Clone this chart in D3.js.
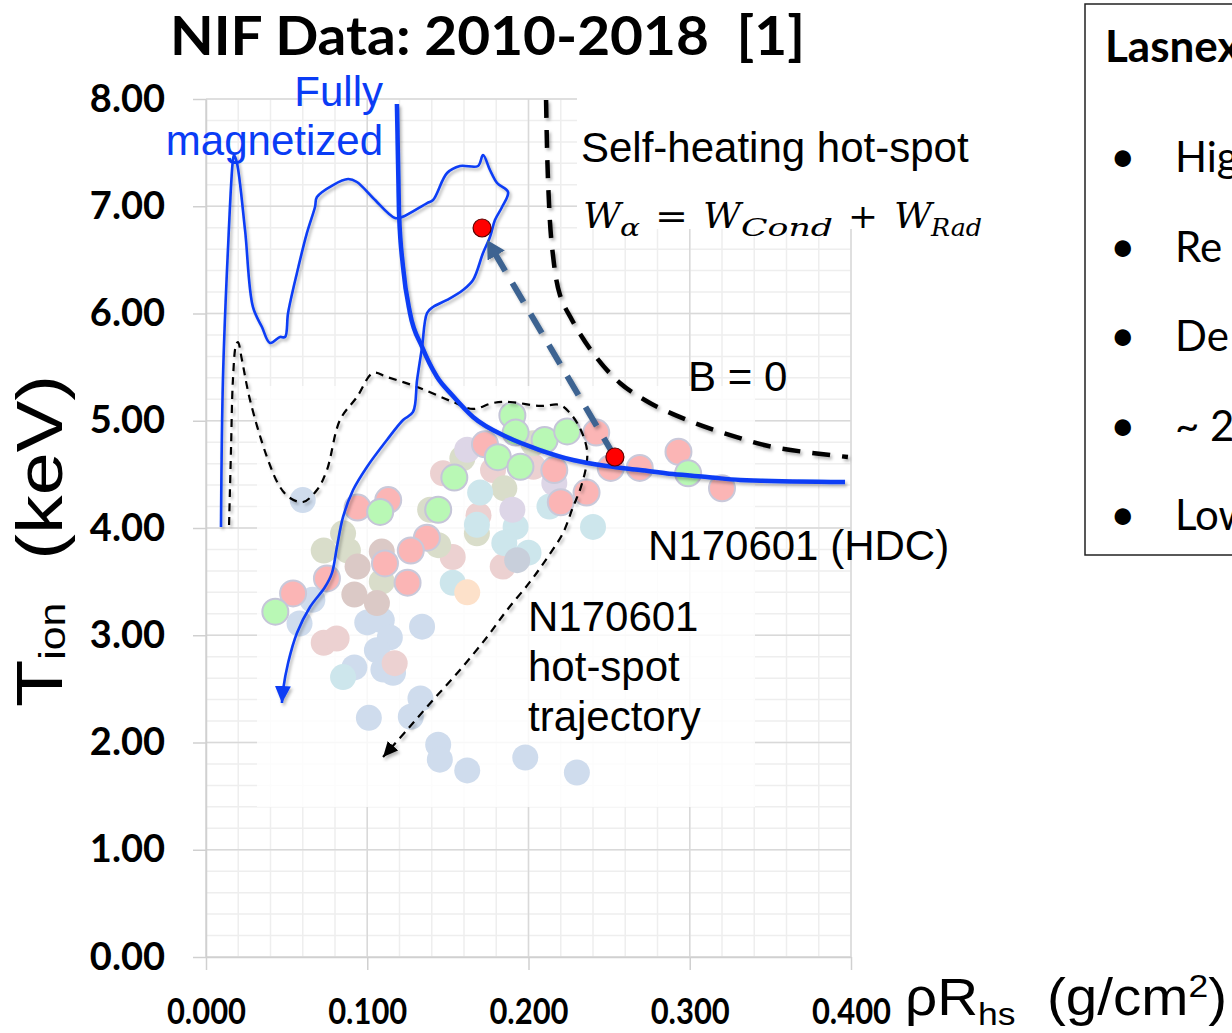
<!DOCTYPE html>
<html>
<head>
<meta charset="utf-8">
<script src="https://cdn.jsdelivr.net/npm/d3@7/dist/d3.min.js"></script>
<style>
  html, body { margin: 0; padding: 0; background: #fff; }
  svg { display: block; }
</style>
</head>
<body>
<svg id="chart" width="1232" height="1033"></svg>
<script>
// ---- Axis ticks -------------------------------------------------------------
const xTicks = [0, 0.1, 0.2, 0.3, 0.4];
const yTicks = [0, 1, 2, 3, 4, 5, 6, 7, 8];

// ---- NIF shots 2010-2018: [rhoR_hs (g/cm2), T_ion (keV)] by campaign colour --
const shotsBlue = [[0.060,4.26],[0.066,3.33],[0.058,3.11],[0.100,3.12],[0.109,3.14],[0.114,2.98],
  [0.106,2.86],[0.092,2.70],[0.116,2.65],[0.110,2.68],[0.134,3.08],[0.133,2.41],[0.127,2.24],
  [0.101,2.23],[0.144,1.98],[0.145,1.84],[0.162,1.74],[0.198,1.86],[0.230,1.72]];
const shotsRose = [[0.147,4.51],[0.178,4.54],[0.203,4.57],[0.169,4.12],[0.184,3.64],[0.153,3.73],
  [0.073,2.93],[0.081,2.97],[0.117,2.74]];
const shotsOlive = [[0.085,3.95],[0.073,3.79],[0.088,3.79],[0.109,3.50],[0.144,3.84],[0.139,4.17],
  [0.159,4.65],[0.185,4.37],[0.168,3.95],[0.203,4.79]];
const shotsTaupe = [[0.094,3.64],[0.092,3.38],[0.106,3.30],[0.109,3.78]];
const shotsCyan = [[0.170,4.33],[0.168,4.03],[0.192,4.01],[0.185,3.86],[0.200,3.77],[0.213,4.20],
  [0.240,4.01],[0.153,3.49],[0.085,2.61]];
const shotsLavender = [[0.162,4.73],[0.190,4.17],[0.216,4.42]];
const shotsPeach = [[0.162,3.40]];
const shotsSlate = [[0.193,3.70]];
const shotsPink = [[0.094,4.19],[0.113,4.26],[0.075,3.53],[0.111,3.67],[0.125,3.49],[0.137,3.91],
  [0.127,3.79],[0.054,3.39],[0.173,4.78],[0.242,4.89],[0.216,4.54],[0.220,4.24],[0.236,4.33],
  [0.251,4.56],[0.269,4.56],[0.293,4.71],[0.320,4.37]];
const shotsGreen = [[0.108,4.15],[0.043,3.22],[0.144,4.17],[0.154,4.47],[0.181,4.66],[0.195,4.57],
  [0.190,5.05],[0.192,4.89],[0.210,4.82],[0.224,4.90],[0.299,4.51]];

// ---- Self-heating boundaries ------------------------------------------------
const boundaryMagnetized = [[0.1184,7.953],[0.1197,6.937],[0.1222,6.434],[0.1265,6.005],[0.1340,5.688],
  [0.1433,5.408],[0.1526,5.240],[0.1656,5.035],[0.1867,4.848],[0.2071,4.727],[0.2276,4.634],
  [0.2487,4.578],[0.2691,4.541],[0.2896,4.503],[0.3107,4.476],[0.3312,4.448],[0.3963,4.429]];
const boundaryB0 = [[0.2109,7.991],[0.2121,7.245],[0.2146,6.620],[0.2195,6.172],[0.2270,5.939],
  [0.2400,5.632],[0.2567,5.352],[0.2753,5.166],[0.2983,5.007],[0.3231,4.876],[0.3516,4.755],[0.3981,4.662]];

// ---- Hot-spot trajectories ---------------------------------------------------
const trajMagnetized = [[0.0093,4.009],[0.0105,5.380],[0.0136,6.592],[0.0167,7.431],[0.0174,7.478],
  [0.0192,7.403],[0.0242,6.779],[0.0291,6.061],[0.0347,5.874],[0.0397,5.725],[0.0459,5.781],
  [0.0490,5.781],[0.0509,6.005],[0.0564,6.378],[0.0626,6.751],[0.0676,6.993],[0.0688,7.086],
  [0.0788,7.198],[0.0881,7.254],[0.0936,7.226],[0.1036,7.077],[0.1172,6.890],[0.1216,6.900],
  [0.1371,7.030],[0.1408,7.058],[0.1495,7.310],[0.1575,7.375],[0.1687,7.375],[0.1718,7.478],
  [0.1761,7.338],[0.1805,7.217],[0.1873,7.133],[0.1836,6.993],[0.1792,6.872],[0.1761,6.713],
  [0.1718,6.564],[0.1656,6.312],[0.1594,6.219],[0.1495,6.126],[0.1408,6.061],[0.1371,6.005],
  [0.1340,5.688],[0.1309,5.380],[0.1284,5.082],[0.1222,5.007],[0.1122,4.821],[0.0998,4.569],
  [0.0912,4.354],[0.0850,4.103],[0.0812,3.823],[0.0781,3.580],[0.0738,3.450],[0.0645,3.263],
  [0.0564,3.021],[0.0509,2.741],[0.0478,2.490],[0.0471,2.368]];
const trajN170601 = [[0.0143,4.028],[0.0155,4.727],[0.0167,5.380],[0.0186,5.706],[0.0198,5.734],
  [0.0223,5.566],[0.0273,5.193],[0.0378,4.662],[0.0459,4.382],[0.0521,4.280],[0.0602,4.242],
  [0.0688,4.354],[0.0750,4.541],[0.0831,5.007],[0.0936,5.221],[0.1036,5.445],[0.1122,5.408],
  [0.1309,5.315],[0.1532,5.175],[0.1656,5.110],[0.1780,5.166],[0.1885,5.175],[0.2071,5.138],
  [0.2195,5.147],[0.2257,5.072],[0.2319,4.932],[0.2363,4.727],[0.2357,4.569],[0.2319,4.354],
  [0.2276,4.196],[0.2214,3.953],[0.2115,3.720],[0.2009,3.497],[0.1867,3.235],[0.1743,2.984],
  [0.1575,2.676],[0.1408,2.396],[0.1246,2.117],[0.1098,1.865]];

// ---- N170601 (HDC) shot and its magnetized counterpart ----------------------
const hdcShot = [0.2536, 4.662];
const hdcMagnetized = [0.1712, 6.797];
const hdcArrowTip = [0.1743, 6.685];

// ---- Layout -----------------------------------------------------------------
const svg = d3.select("#chart");
const x = d3.scaleLinear().domain([0, 0.4]).range([206, 851]);
const y = d3.scaleLinear().domain([0, 8]).range([957, 99]);

svg.append("rect").attr("width", 1232).attr("height", 1033).attr("fill", "#fff");

const defs = svg.append("defs");
const shadow = defs.append("filter").attr("id", "shadow")
  .attr("x", "-20%").attr("y", "-20%").attr("width", "140%").attr("height", "140%");
shadow.append("feDropShadow").attr("dx", 2).attr("dy", 2.5).attr("stdDeviation", 1.8)
  .attr("flood-color", "#000").attr("flood-opacity", 0.28);

function marker(id, len, half, color) {
  defs.append("marker").attr("id", id)
    .attr("markerUnits", "userSpaceOnUse")
    .attr("viewBox", `0 ${-half} ${len} ${2 * half}`)
    .attr("refX", len).attr("refY", 0)
    .attr("markerWidth", len).attr("markerHeight", 2 * half)
    .attr("orient", "auto")
    .append("path").attr("d", `M0,${-half}L${len},0L0,${half}Z`).attr("fill", color);
}
const BLUE = "#0a3cf5";
const STEEL = "#3d6491";
marker("arrowBlue", 17, 8, BLUE);
marker("arrowBlack", 15, 7, "#000");
marker("arrowSteel", 18, 10, STEEL);

// ---- Grid -------------------------------------------------------------------
const grid = svg.append("g");
grid.selectAll("line.vmin").data(d3.range(0, 21).map(i => i * 0.02)).join("line")
  .attr("x1", d => x(d)).attr("x2", d => x(d)).attr("y1", y(8)).attr("y2", y(0))
  .attr("stroke", "#eeeeee").attr("stroke-width", 1.5);
grid.selectAll("line.hmin").data(d3.range(0, 41).map(i => i * 0.2)).join("line")
  .attr("x1", x(0)).attr("x2", x(0.4)).attr("y1", d => y(d)).attr("y2", d => y(d))
  .attr("stroke", "#eeeeee").attr("stroke-width", 1.5);
grid.selectAll("line.vmaj").data(xTicks).join("line")
  .attr("x1", d => x(d)).attr("x2", d => x(d)).attr("y1", y(8)).attr("y2", y(0))
  .attr("stroke", "#d9d9d9").attr("stroke-width", 1.5);
grid.selectAll("line.hmaj").data(yTicks).join("line")
  .attr("x1", x(0)).attr("x2", x(0.4)).attr("y1", d => y(d)).attr("y2", d => y(d))
  .attr("stroke", "#d9d9d9").attr("stroke-width", 1.5);

// Axes
const yAxis = svg.append("g").attr("transform", `translate(${x(0)},0)`)
  .call(d3.axisLeft(y).tickValues(yTicks).tickFormat(d3.format(".2f")).tickSize(13).tickSizeOuter(0).tickPadding(28));
const xAxis = svg.append("g").attr("transform", `translate(0,${y(0)})`)
  .call(d3.axisBottom(x).tickValues(xTicks).tickFormat(d3.format(".3f")).tickSize(13).tickSizeOuter(0).tickPadding(30));
[yAxis, xAxis].forEach(a => {
  a.select(".domain").attr("stroke", "#d0d0d0").attr("stroke-width", 1.5);
  a.selectAll(".tick line").attr("stroke", "#d0d0d0").attr("stroke-width", 1.5);
  a.selectAll(".tick text").attr("fill", "#000")
    .style("font-family", "Lato, 'Open Sans', sans-serif").style("font-weight", 700).style("font-size", "38px");
});
xAxis.selectAll(".tick text").attr("dy", "0.66em").style("font-size", "36px")
  .attr("transform", "scale(0.86,1)");

// Panels pasted over the grid (data image backdrop and label box)
svg.append("rect").attr("x", 257).attr("y", 386).attr("width", 498).attr("height", 421)
  .attr("fill", "#fff").attr("opacity", 0.82);
svg.append("rect").attr("x", 577).attr("y", 96).attr("width", 420).attr("height", 133)
  .attr("fill", "#fff");

// ---- Scatter of shots -------------------------------------------------------
const R = 13;
function dots(data, fill, stroke) {
  svg.append("g").selectAll("circle").data(data).join("circle")
    .attr("cx", d => x(d[0])).attr("cy", d => y(d[1])).attr("r", R)
    .attr("fill", fill)
    .attr("stroke", stroke || "none").attr("stroke-width", stroke ? 2 : 0);
}
dots(shotsBlue, "#cfdced");
dots(shotsRose, "#ecd1d1");
dots(shotsOlive, "#d9ddca");
dots(shotsTaupe, "#dbc9c6");
dots(shotsCyan, "#cde6ec");
dots(shotsLavender, "#ddd6e7");
dots(shotsPeach, "#fde1ca");
dots(shotsSlate, "#c8cfdb");
dots(shotsPink, "#fbb5b5", "#c9c9da");
dots(shotsGreen, "#b9f8b5", "#c5c5d8");

// ---- Curves -----------------------------------------------------------------
const lineMono = d3.line().x(d => x(d[0])).y(d => y(d[1])).curve(d3.curveMonotoneX);
const lineFree = d3.line().x(d => x(d[0])).y(d => y(d[1])).curve(d3.curveCatmullRom.alpha(0.5));

const curves = svg.append("g").attr("filter", "url(#shadow)");
curves.append("path").attr("d", lineFree(trajN170601)).attr("fill", "none")
  .attr("stroke", "#000").attr("stroke-width", 2.2).attr("stroke-dasharray", "8,6")
  .attr("marker-end", "url(#arrowBlack)");
curves.append("path").attr("d", lineFree(trajMagnetized)).attr("fill", "none")
  .attr("stroke", BLUE).attr("stroke-width", 2.6).attr("stroke-linejoin", "round")
  .attr("marker-end", "url(#arrowBlue)");
curves.append("path").attr("d", lineFree(boundaryB0)).attr("fill", "none")
  .attr("stroke", "#000").attr("stroke-width", 4.5).attr("stroke-dasharray", "18,12");
curves.append("path").attr("d", lineMono(boundaryMagnetized)).attr("fill", "none")
  .attr("stroke", BLUE).attr("stroke-width", 4.5);
curves.append("path").attr("d", d3.line().x(d => x(d[0])).y(d => y(d[1]))([hdcShot, hdcArrowTip]))
  .attr("fill", "none").attr("stroke", STEEL).attr("stroke-width", 6).attr("stroke-dasharray", "22,14")
  .attr("marker-end", "url(#arrowSteel)");

svg.append("g").selectAll("circle").data([hdcShot, hdcMagnetized]).join("circle")
  .attr("cx", d => x(d[0])).attr("cy", d => y(d[1])).attr("r", 9)
  .attr("fill", "#ff0000").attr("stroke", "#5a0000").attr("stroke-width", 1.2);

// ---- Text -------------------------------------------------------------------
const SANS = "'Liberation Sans', Arial, sans-serif";
const BOLD = "Lato, 'Open Sans', sans-serif";
function label(str, px, py, opts = {}) {
  return svg.append("text").attr("x", px).attr("y", py).text(str)
    .attr("font-family", opts.family || SANS).attr("font-size", opts.size || 42)
    .attr("font-weight", opts.weight || 400).attr("fill", opts.fill || "#000")
    .attr("text-anchor", opts.anchor || "start");
}

label("NIF Data: 2010-2018  [1]", 170, 55, { family: BOLD, weight: 700, size: 53 })
  .attr("textLength", 635).attr("lengthAdjust", "spacingAndGlyphs").style("white-space", "pre");

label("Fully", 383, 106, { fill: BLUE, anchor: "end" });
label("magnetized", 383, 155, { fill: BLUE, anchor: "end" });
label("Self-heating hot-spot", 581, 162);
label("B = 0", 688, 391);
label("N170601 (HDC)", 648, 560);
label("N170601", 528, 631);
label("hot-spot", 528, 681);
label("trajectory", 528, 731);

// W_alpha = W_Cond + W_Rad
const SERIF = "'DejaVu Serif', 'Liberation Serif', serif";
function mathPiece(str, px, py, size, italic, len) {
  const t = svg.append("text").attr("x", px).attr("y", py).text(str)
    .attr("font-family", SERIF).attr("font-size", size)
    .attr("font-style", italic ? "italic" : "normal");
  if (len) t.attr("textLength", len).attr("lengthAdjust", "spacingAndGlyphs");
}
mathPiece("W", 583, 228, 35, true, 38);
mathPiece("α", 620, 236, 24, true, 20);
mathPiece("=", 655, 228, 34, false, 33);
mathPiece("W", 703, 228, 35, true, 38);
mathPiece("Cond", 741, 236, 24, true, 92);
mathPiece("+", 848, 228, 34, false, 30);
mathPiece("W", 894, 228, 35, true, 38);
mathPiece("Rad", 931, 236, 24, true, 51);

// Axis titles
const yTitle = svg.append("text").attr("transform", "translate(62,707) rotate(-90)")
  .attr("font-family", SANS).attr("font-size", 65).attr("fill", "#000")
  .attr("textLength", 332).attr("lengthAdjust", "spacingAndGlyphs").style("white-space", "pre");
yTitle.append("tspan").text("T");
yTitle.append("tspan").attr("font-size", 36).attr("dy", 3).text("ion");
yTitle.append("tspan").attr("dy", -3).text("  (keV)");

const xTitle = svg.append("text").attr("x", 905).attr("y", 1015)
  .attr("font-family", SANS).attr("font-size", 51).attr("fill", "#000")
  .attr("textLength", 322).attr("lengthAdjust", "spacingAndGlyphs").style("white-space", "pre");
xTitle.append("tspan").text("ρR");
xTitle.append("tspan").attr("font-size", 32).attr("dy", 10).text("hs");
xTitle.append("tspan").attr("dy", -10).text("  (g/cm");
xTitle.append("tspan").attr("font-size", 32).attr("dy", -18).text("2");
xTitle.append("tspan").attr("dy", 18).text(")");

// ---- Side panel -------------------------------------------------------------
svg.append("rect").attr("x", 1085).attr("y", 4).attr("width", 200).attr("height", 551)
  .attr("fill", "#fff").attr("stroke", "#222").attr("stroke-width", 1.5);
label("Lasnex", 1105, 62, { family: BOLD, weight: 700, size: 44 });
const bullets = ["High", "Re", "De", "~ 2", "Low"];
bullets.forEach((b, i) => {
  const by = 172 + i * 89.5;
  label("•", 1110, by, { family: BOLD, size: 44 });
  label(b, 1175, by, { family: BOLD, size: 42 }).style("white-space", "pre");
});
</script>
</body>
</html>
